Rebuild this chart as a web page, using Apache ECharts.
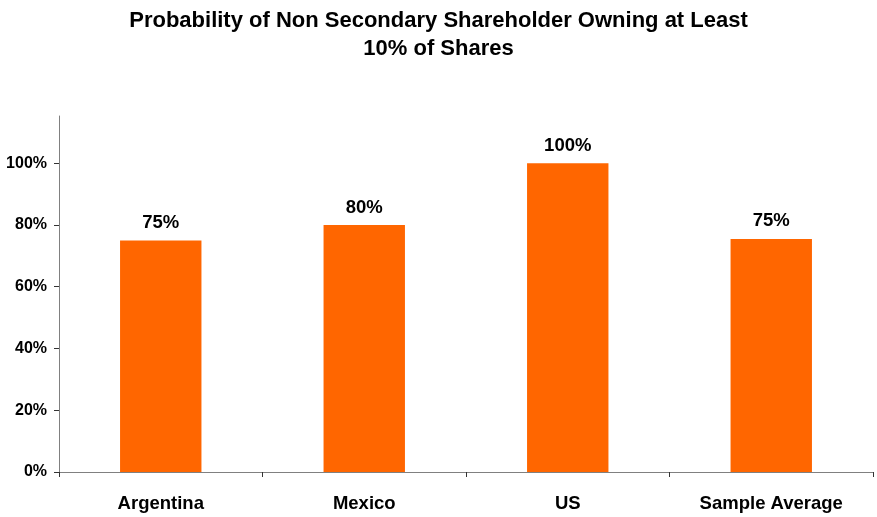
<!DOCTYPE html>
<html>
<head>
<meta charset="utf-8">
<script src="https://cdn.jsdelivr.net/npm/echarts@6/dist/echarts.min.js"></script>
<style>
    html, body { margin: 0; padding: 0; background: #fff; }
    #chart { width: 877px; height: 517px; }
</style>
</head>
<body>
<div id="chart"></div>
<script>
const categories = ['Argentina', 'Mexico', 'US', 'Sample Average'];
const values = [0.75, 0.80, 1.00, 0.755];
const valueLabels = ['75%', '80%', '100%', '75%'];
const yTicks = [0, 0.2, 0.4, 0.6, 0.8, 1.0];

const FONT = '"Liberation Sans", Arial, sans-serif';

const getXAxisOpt = () => ({
    type: 'category',
    data: categories,
    axisLine: { show: true, lineStyle: { color: '#808080', width: 1 } },
    axisTick: { show: true, length: 5, lineStyle: { color: '#333' } },
    axisLabel: {
        color: '#000',
        fontFamily: FONT,
        fontWeight: 'bold',
        fontSize: 18.5,
        margin: 22
    }
});

const getYAxisOpt = () => ({
    type: 'value',
    min: 0,
    max: 1.153,
    axisLine: { show: true, lineStyle: { color: '#808080', width: 1 } },
    axisTick: { show: true, length: 5, customValues: yTicks, lineStyle: { color: '#333' } },
    splitLine: { show: false },
    axisLabel: {
        customValues: yTicks,
        color: '#000',
        fontFamily: FONT,
        fontWeight: 'bold',
        fontSize: 16,
        margin: 12,
        formatter: v => Math.round(v * 100) + '%'
    }
});

const option = {
    backgroundColor: '#fff',
    animation: false,
    title: {
        text: 'Probability of Non Secondary Shareholder Owning at Least\n10% of Shares',
        left: 'center',
        top: 2,
        textStyle: {
            fontFamily: FONT,
            fontWeight: 'bold',
            fontSize: 22,
            lineHeight: 28,
            color: '#000'
        }
    },
    grid: { left: 59, right: 4, top: 116, bottom: 45, containLabel: false },
    xAxis: getXAxisOpt(),
    yAxis: getYAxisOpt(),
    series: [{
        type: 'bar',
        data: values,
        barWidth: '40%',
        itemStyle: { color: '#FF6600' },
        label: {
            show: true,
            position: 'top',
            distance: 8,
            color: '#000',
            fontFamily: FONT,
            fontWeight: 'bold',
            fontSize: 18.5,
            formatter: p => valueLabels[p.dataIndex]
        }
    }]
};

const myChart = echarts.init(document.getElementById('chart'));
myChart.setOption(option);
</script>
</body>
</html>
